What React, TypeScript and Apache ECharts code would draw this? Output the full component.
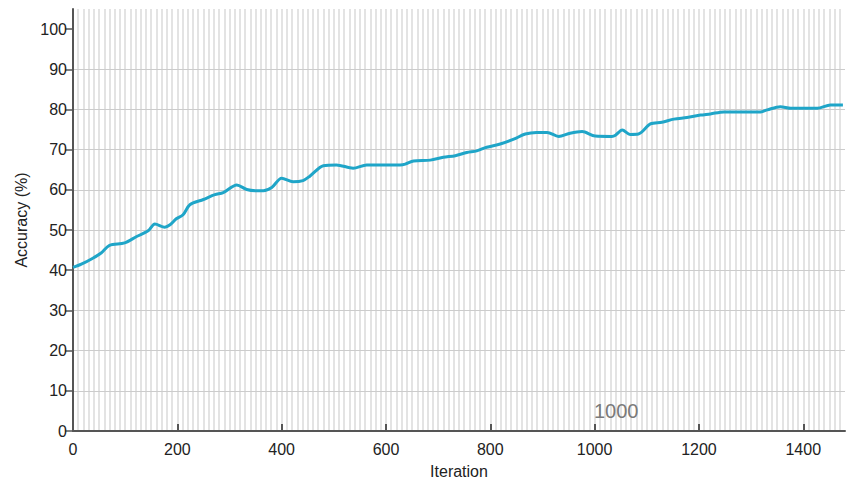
import React, { useEffect, useRef } from "react";
import * as echarts from "echarts";

const iterations = [
  0, 16, 38, 54, 70, 99, 122, 144, 157, 176,
  186, 198, 211, 224, 250, 272, 288, 314, 333, 350,
  365, 381, 400, 422, 441, 454, 480, 505, 537, 563,
  600, 627, 637, 653, 685, 710, 733, 755, 774, 793,
  819, 845, 867, 889, 909, 931, 953, 976, 1001, 1033,
  1040, 1053, 1068, 1084, 1107, 1129, 1152, 1177, 1203, 1222,
  1248, 1290, 1318, 1331, 1356, 1376, 1427, 1452, 1476,
];
const accuracy = [
  40.7, 41.5, 43, 44.3, 46.2, 46.8, 48.4, 49.8, 51.5, 50.7,
  51.3, 52.8, 53.8, 56.3, 57.6, 58.8, 59.3, 61.2, 60.1, 59.8,
  59.8, 60.6, 62.9, 62.0, 62.3, 63.4, 66.0, 66.2, 65.4, 66.2,
  66.2, 66.2, 66.4, 67.2, 67.4, 68.1, 68.5, 69.3, 69.7, 70.6,
  71.4, 72.6, 73.9, 74.3, 74.3, 73.3, 74.1, 74.5, 73.4, 73.3,
  73.6, 74.9, 73.8, 73.9, 76.4, 76.8, 77.6, 78.0, 78.6, 78.9,
  79.4, 79.4, 79.4, 79.9, 80.7, 80.3, 80.3, 81.1, 81.1,
];
const xTickLabels = [0, 200, 400, 600, 800, 1000, 1200, 1400];
const yTickLabels = [0, 10, 20, 30, 40, 50, 60, 70, 80, 90, 100];
const annotationText = "1000";

const FONT = "'Liberation Sans', Arial, Helvetica, sans-serif";

export default function App() {
  const ref = useRef<HTMLDivElement>(null);
  useEffect(() => {
    document.body.style.margin = "0";
    if (!ref.current) return;
    const chart = echarts.init(ref.current, null, { renderer: "svg" });
    chart.setOption({
      animation: false,
      backgroundColor: "#ffffff",
      textStyle: { fontFamily: FONT },
      grid: { left: 73, right: 3, top: 9, bottom: 52 },
      xAxis: [
        {
          type: "value",
          min: 0,
          max: 1480,
          interval: 200,
          name: "Iteration",
          nameLocation: "middle",
          nameGap: 32,
          nameTextStyle: { fontSize: 16, color: "#222", fontFamily: FONT },
          axisLine: { show: true, lineStyle: { color: "#555", width: 2 } },
          axisTick: {
            show: true,
            inside: true,
            length: 7,
            customValues: xTickLabels,
            lineStyle: { color: "#555", width: 2 },
          },
          axisLabel: {
            customValues: xTickLabels,
            fontSize: 16,
            color: "#222",
            margin: 10,
            fontFamily: FONT,
            formatter: (v: number) => String(v),
          },
          splitLine: { show: false },
          z: 3,
        },
        {
          type: "value",
          position: "bottom",
          min: 0,
          max: 1480,
          interval: 10,
          axisLine: { show: false },
          axisTick: { show: false },
          axisLabel: { show: false },
          splitLine: {
            show: true,
            showMinLine: false,
            showMaxLine: false,
            lineStyle: { color: "#e3e3e3", width: 2 },
          },
          z: 0,
        },
      ],
      yAxis: {
        type: "value",
        min: 0,
        max: 105,
        interval: 10,
        name: "Accuracy (%)",
        nameLocation: "middle",
        nameGap: 44,
        nameTextStyle: { fontSize: 16, color: "#222", fontFamily: FONT },
        axisLine: { show: true, lineStyle: { color: "#555", width: 2 } },
        axisTick: {
          show: true,
          inside: false,
          length: 8,
          customValues: yTickLabels,
          lineStyle: { color: "#555", width: 1.5 },
        },
        axisLabel: {
          customValues: yTickLabels,
          fontSize: 16,
          color: "#222",
          margin: 6,
          fontFamily: FONT,
        },
        splitLine: {
          show: true,
          showMinLine: false,
          showMaxLine: false,
          lineStyle: { color: "#cccccc", width: 1 },
        },
        z: 3,
      },
      graphic: [
        {
          type: "text",
          left: 594,
          top: 401,
          z: 10,
          style: {
            text: annotationText,
            fontSize: 20,
            fill: "#7a7a7a",
            fontFamily: FONT,
          },
        },
      ],
      series: [
        {
          type: "line",
          xAxisIndex: 0,
          data: iterations.map((x, i) => [x, accuracy[i]]),
          showSymbol: false,
          smooth: 0.3,
          lineStyle: { color: "#1fa5c8", width: 3 },
          z: 5,
        },
      ],
    });
    return () => chart.dispose();
  }, []);
  return (
    <div
      ref={ref}
      style={{ position: "fixed", left: 0, top: 0, width: 848, height: 484 }}
    />
  );
}
